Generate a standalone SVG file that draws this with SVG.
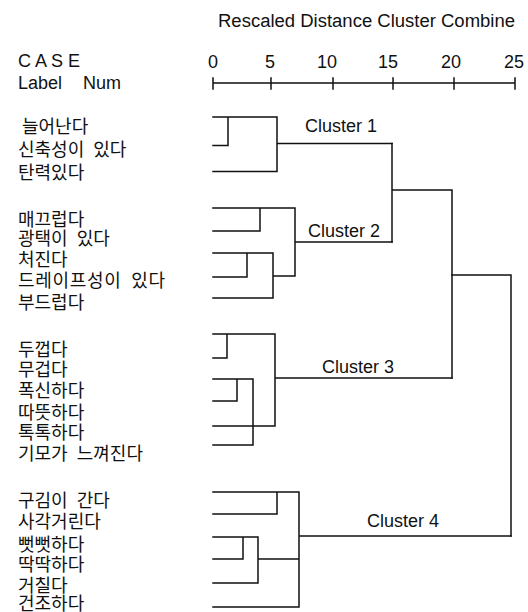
<svg xmlns="http://www.w3.org/2000/svg" width="528" height="612" viewBox="0 0 528 612">
  <style>
    .lat { font-family: "Liberation Sans", Arial, sans-serif; font-size: 18px; fill: #111; }
    .kor { font-family: "Noto Sans CJK KR", "Noto Sans", sans-serif; font-size: 18px; fill: #111; word-spacing: 5px; }
    .num { text-anchor: middle; }
    .ln { stroke: #111; stroke-width: 1.5; fill: none; stroke-linecap: square; }
  </style>
  <rect width="528" height="612" fill="#fff"/>

  <!-- header and distance axis -->
  <g id="header">
    <text class="lat" x="218" y="27" textLength="297" lengthAdjust="spacingAndGlyphs">Rescaled Distance Cluster Combine</text>
    <text class="lat" x="18" y="67">C A S E</text>
    <text class="lat" x="18" y="89">Label</text>
    <text class="lat" x="83" y="89">Num</text>
  </g>
  <g id="axis">
    <text class="lat num" x="213" y="68">0</text>
    <text class="lat num" x="270" y="68">5</text>
    <text class="lat num" x="327" y="68">10</text>
    <text class="lat num" x="388" y="68">15</text>
    <text class="lat num" x="451" y="68">20</text>
    <text class="lat num" x="514" y="68">25</text>
    <path class="ln" d="M213 83H515 M213 78V89 M271 78V89 M333 78V89 M393 78V89 M454 78V89 M515 78V89"/>
  </g>

  <!-- case labels -->
  <g id="cluster1-cases">
    <text class="kor" x="22" y="132.5">늘어난다</text>
    <text class="kor" x="18" y="155.5">신축성이 있다</text>
    <text class="kor" x="18" y="178.5">탄력있다</text>
  </g>
  <g id="cluster2-cases">
    <text class="kor" x="18" y="225.5">매끄럽다</text>
    <text class="kor" x="18" y="244.5">광택이 있다</text>
    <text class="kor" x="18" y="265.5">처진다</text>
    <text class="kor" x="18" y="287" textLength="147" lengthAdjust="spacing">드레이프성이 있다</text>
    <text class="kor" x="18" y="308.5">부드럽다</text>
  </g>
  <g id="cluster3-cases">
    <text class="kor" x="18" y="355.5">두껍다</text>
    <text class="kor" x="18" y="376">무겁다</text>
    <text class="kor" x="18" y="396.5">폭신하다</text>
    <text class="kor" x="18" y="418.5">따뜻하다</text>
    <text class="kor" x="18" y="438.5">톡톡하다</text>
    <text class="kor" x="18" y="459.5">기모가 느껴진다</text>
  </g>
  <g id="cluster4-cases">
    <text class="kor" x="18" y="506.5">구김이 간다</text>
    <text class="kor" x="18" y="527.5">사각거린다</text>
    <text class="kor" x="18" y="550.5">뻣뻣하다</text>
    <text class="kor" x="18" y="570.5">딱딱하다</text>
    <text class="kor" x="18" y="591.5">거칠다</text>
    <text class="kor" x="18" y="610">건조하다</text>
  </g>

  <!-- cluster names -->
  <g id="cluster1-name"><text class="lat" x="305" y="132">Cluster 1</text></g>
  <g id="cluster2-name"><text class="lat" x="308" y="237">Cluster 2</text></g>
  <g id="cluster3-name"><text class="lat" x="322" y="373">Cluster 3</text></g>
  <g id="cluster4-name"><text class="lat" x="367" y="527">Cluster 4</text></g>

  <!-- dendrogram links -->
  <g id="connectors" class="ln">
    <!-- cluster 1 -->
    <path d="M213 117H277 M213 145.5H228 M228 117V145.5 M213 171.5H277 M277 117V171.5 M277 143.5H392"/>
    <!-- cluster 2 -->
    <path d="M213 208H295 M260 208V231 M213 231H260 M213 253H273 M247 253V277 M213 277H247 M273 253V298 M213 298H273 M273 276H295 M295 208V276 M295 242H392"/>
    <!-- clusters 1 + 2 -->
    <path d="M392 143.5V242 M392 190H452 M452 190V378"/>
    <!-- cluster 3 -->
    <path d="M213 334H275 M227 334V358 M213 358H227 M213 379H253 M237 379V401 M213 401H237 M253 379V445 M213 445H253 M213 426H275 M275 334V426 M275 378H452"/>
    <!-- clusters 1-3 + 4 -->
    <path d="M452 275H511 M511 275V536"/>
    <!-- cluster 4 -->
    <path d="M213 492H299 M277 492V514 M213 514H277 M213 537H258 M243 537V559 M213 559H243 M258 537V583 M213 583H258 M258 559H299 M213 607H299 M299 492V607 M299 536H511"/>
  </g>
</svg>
